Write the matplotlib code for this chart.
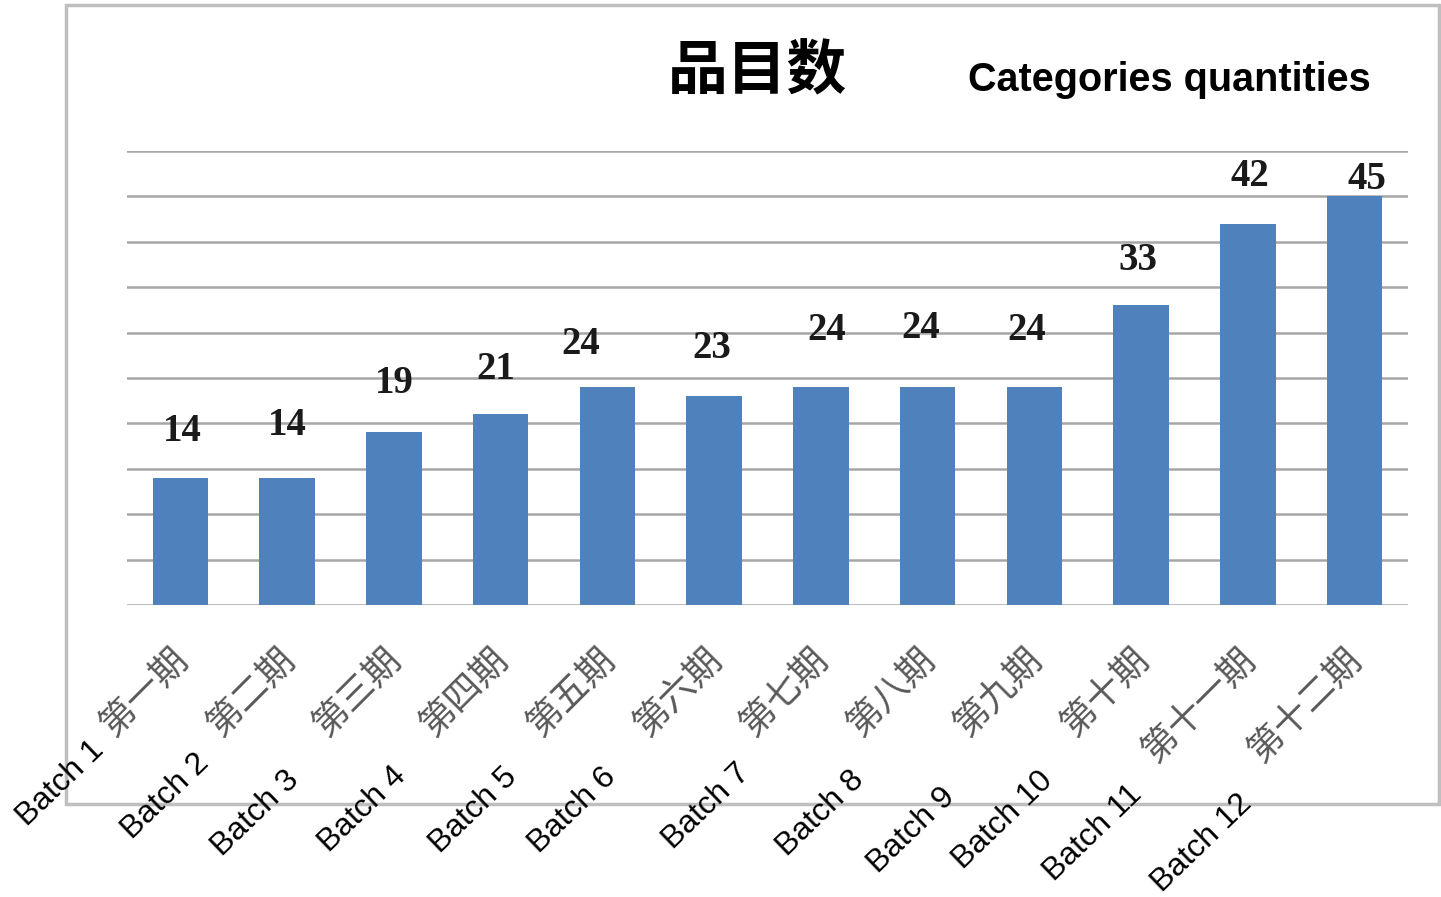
"""Bar chart of category counts per batch (品目数)."""

import matplotlib
matplotlib.use("Agg")
import matplotlib.pyplot as plt
from matplotlib.patches import Rectangle

# Data.
batches_cn = ["第一期", "第二期", "第三期", "第四期", "第五期", "第六期",
              "第七期", "第八期", "第九期", "第十期", "第十一期", "第十二期"]
batches_en = [f"Batch {i}" for i in range(1, 13)]
counts = [14, 14, 19, 21, 24, 23, 24, 24, 24, 33, 42, 45]

# Layout helpers (pixels in the 1441x897 canvas).
W, H = 1441, 897
label_nudge = [(2, 46), (0, 52), (0, 49), (-5, 45), (-27, 43), (-2, 48),
               (6, 57), (-7, 59), (-8, 57), (-3, 45), (2, 47), (12, 17)]
batch_anchor = [(100, 746), (205, 759), (295, 776), (402, 772), (513, 773),
                (612, 773), (746, 769), (860, 776), (951, 793), (1048, 776),
                (1138, 790), (1247, 799)]

BAR_COLOR = "#4f81bd"
GRID_COLOR = "#a6a6a6"
CJK = ["Noto Sans CJK SC", "DejaVu Sans"]

fig = plt.figure(figsize=(W / 100, H / 100), dpi=100)
ax = fig.add_axes([127 / W, 1 - 605 / H, (1408 - 127) / W, (605 - 151) / H])

x = list(range(len(counts)))
ax.bar(x, counts, width=0.52, color=BAR_COLOR, zorder=3)
ax.set_xlim(-0.5, len(counts) - 0.5)
ax.set_ylim(0, 50)
ax.set_yticks(range(0, 51, 5))
ax.yaxis.grid(True, color=GRID_COLOR, linewidth=1.8, zorder=0)
ax.tick_params(left=False, bottom=False, labelleft=False, labelbottom=False)
for side in ["left", "right", "top", "bottom"]:
    ax.spines[side].set_visible(False)

# Value labels above bars.
for i, (val, (dx, dy)) in enumerate(zip(counts, label_nudge)):
    ax.annotate(str(val), xy=(i, val), xytext=(dx * 0.72, dy * 0.72),
                textcoords="offset points", ha="center", va="center",
                fontsize=28, fontweight="bold", family="Liberation Serif",
                color="#1a1a1a")

# Chinese category labels, rotated 45 degrees.
for i, name in enumerate(batches_cn):
    ax.annotate(name, xy=(i, 0), xytext=(2 * 0.72, -49 * 0.72),
                textcoords="offset points", rotation=45,
                rotation_mode="anchor", ha="right", va="center",
                fontsize=26, family=CJK, color="#595959")

# English batch labels placed by hand below.
for name, (px, py) in zip(batches_en, batch_anchor):
    fig.text(px / W, 1 - py / H, name, rotation=44, rotation_mode="anchor",
             ha="right", va="center", fontsize=23, family="Liberation Sans",
             color="black")

fig.text(757 / W, 1 - 72 / H, "品目数", ha="center", va="center",
         fontsize=43, fontweight="bold", family=CJK, color="black")
fig.text(1169 / W, 1 - 80 / H, "Categories quantities", ha="center",
         va="center", fontsize=28.5, fontweight="bold",
         family="Liberation Sans", color="black")

# Chart-area border.
fig.patches.append(Rectangle((66 / W, 1 - 804 / H), (1439 - 66) / W,
                             (804 - 5) / H, transform=fig.transFigure,
                             fill=False, edgecolor="#bfbfbf", linewidth=2.5,
                             zorder=0))

fig.savefig("out.png", dpi=100)
